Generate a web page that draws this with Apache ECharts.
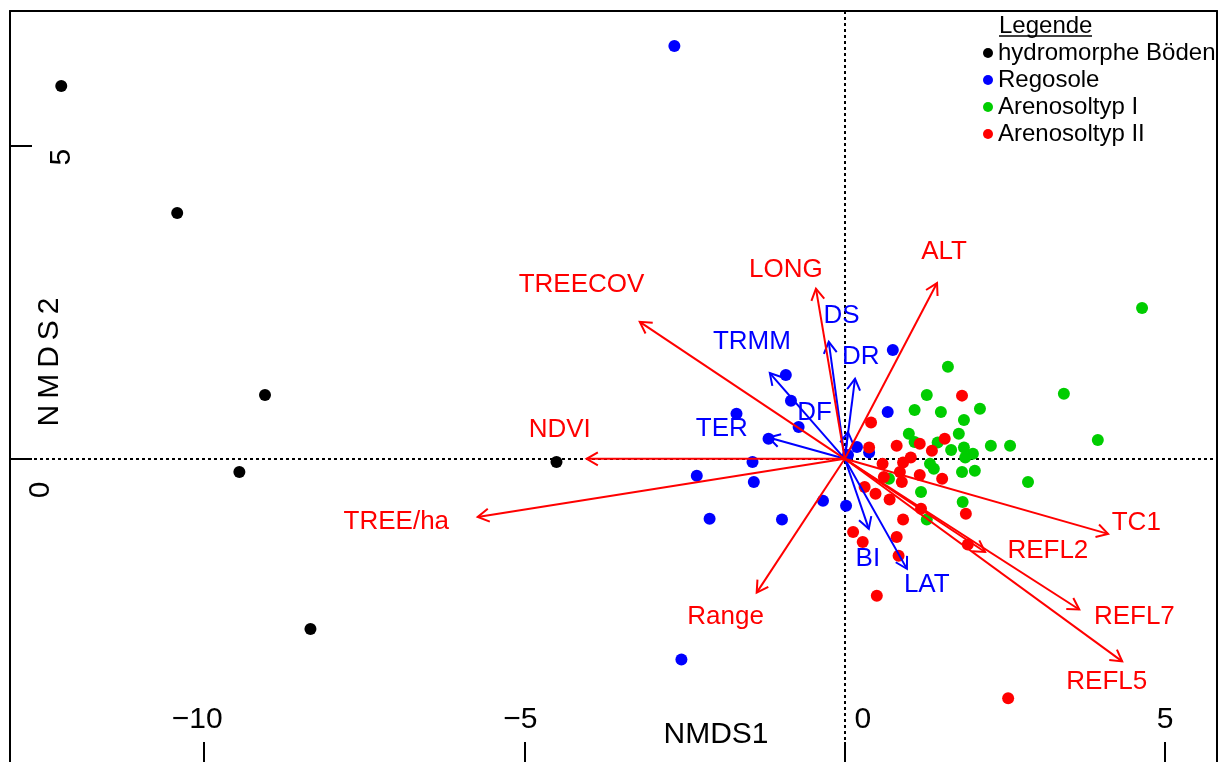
<!DOCTYPE html>
<html><head><meta charset="utf-8">
<script src="https://cdn.jsdelivr.net/npm/echarts@6/dist/echarts.min.js"></script>
<style>html,body{margin:0;padding:0;background:#fff}#c{width:1226px;height:762px}</style>
</head><body><div id="c"></div>
<script>
// ---- data ----
const seriesNames = ['hydromorphe Böden', 'Regosole', 'Arenosoltyp I', 'Arenosoltyp II'];
const seriesColors = ['#000000', '#0000FF', '#00CD00', '#FF0000'];

const hydroX = [-12.23, -10.42, -9.05, -9.45, -8.34, -4.50];
const hydroY = [5.96, 3.93, 1.02, -0.21, -2.72, -0.05];

const regoX = [-2.66, 0.75, 0.67, -0.92, -0.84, -1.69, -0.72, -1.19, 0.19, 0.38, 0.05, -1.44, -2.31, -1.42, -0.34, 0.02, -2.11, -0.98, -2.55];
const regoY = [6.60, 1.74, 0.75, 1.34, 0.93, 0.72, 0.51, 0.32, 0.19, 0.10, 0.06, -0.05, -0.27, -0.37, -0.67, -0.75, -0.96, -0.97, -3.21];

const are1X = [4.64, 3.42, 3.95, 1.61, 1.28, 2.11, 1.09, 1.50, 1.86, 1.78, 1.00, 1.09, 1.45, 1.66, 1.86, 2.00, 1.88, 2.28, 2.58, 1.33, 1.39, 1.83, 2.03, 2.86, 0.69, 1.19, 1.84, 1.28];
const are1Y = [2.41, 1.04, 0.30, 1.47, 1.02, 0.80, 0.78, 0.75, 0.62, 0.40, 0.40, 0.27, 0.26, 0.14, 0.18, 0.08, 0.02, 0.21, 0.21, -0.08, -0.16, -0.21, -0.19, -0.37, -0.32, -0.53, -0.69, -0.97];

const are2X = [1.83, 0.41, 0.38, 0.81, 1.17, 1.56, 1.36, 1.03, 0.91, 0.59, 0.86, 1.17, 1.52, 0.61, 0.31, 0.89, 0.48, 0.70, 1.19, 1.89, 0.91, 0.13, 0.28, 0.81, 0.84, 1.92, 0.50, 2.55];
const are2Y = [1.01, 0.58, 0.18, 0.21, 0.24, 0.32, 0.13, 0.02, -0.06, -0.08, -0.21, -0.26, -0.32, -0.29, -0.45, -0.37, -0.56, -0.65, -0.80, -0.88, -0.97, -1.17, -1.33, -1.25, -1.55, -1.37, -2.19, -3.83];

const redNames = ['TREECOV', 'LONG', 'ALT', 'NDVI', 'TREE/ha', 'Range', 'TC1', 'REFL2', 'REFL7', 'REFL5'];
const redTipX = [-3.20, -0.45, 1.44, -4.03, -5.73, -1.375, 4.11, 2.19, 3.66, 4.33];
const redTipY = [2.19, 2.72, 2.81, 0.00, -0.93, -2.14, -1.20, -1.49, -2.41, -3.24];
const redLabX = [-4.11, -0.92, 1.55, -4.45, -7.00, -1.86, 4.55, 3.17, 4.52, 4.09];
const redLabY = [2.78, 3.02, 3.31, 0.46, -1.00, -2.52, -1.02, -1.47, -2.52, -3.56];

const blueNames = ['DS', 'DR', 'TRMM', 'DF', 'TER', 'BI', 'LAT'];
const blueTipX = [-0.25, 0.16, -1.17, 0.05, -1.19, 0.375, 0.97];
const blueTipY = [1.87, 1.28, 1.37, 0.43, 0.34, -1.12, -1.76];
const blueLabX = [-0.05, 0.25, -1.45, -0.47, -1.92, 0.36, 1.28];
const blueLabY = [2.28, 1.63, 1.87, 0.73, 0.48, -1.60, -2.01];

const xTickValues = [-10, -5, 0, 5];
const xTickLabels = ['\u221210', '\u22125', '0', '5'];
const yTickValues = [0, 5];
const yTickLabels = ['0', '5'];

// ---- build ----
const FONT = '"Liberation Sans", Arial, Helvetica, sans-serif';
const X_MIN = -13.03, X_MAX = 5.81, Y_MIN = -4.88, Y_MAX = 7.16;
function zip(xs, ys) { return xs.map((x, i) => [x, ys[i]]); }
function zip4(a, b, c, d) { return a.map((x, i) => [x, b[i], c[i], d[i]]); }

function arrowRender(color, names) {
  return function (params, api) {
    const o = api.coord([0, 0]);
    const p = api.coord([api.value(0), api.value(1)]);
    const l = api.coord([api.value(2), api.value(3)]);
    const ang = Math.atan2(p[1] - o[1], p[0] - o[0]);
    const hl = 13, ha = Math.PI / 6;
    const h1 = [p[0] - hl * Math.cos(ang - ha), p[1] - hl * Math.sin(ang - ha)];
    const h2 = [p[0] - hl * Math.cos(ang + ha), p[1] - hl * Math.sin(ang + ha)];
    return {
      type: 'group',
      children: [
        { type: 'line', shape: { x1: o[0], y1: o[1], x2: p[0], y2: p[1] }, style: { stroke: color, lineWidth: 2 } },
        { type: 'polyline', shape: { points: [h1, p, h2] }, style: { stroke: color, lineWidth: 2, fill: null } },
        { type: 'text', style: { text: names[params.dataIndex], x: l[0], y: l[1], fill: color, font: '26px ' + FONT, align: 'center', verticalAlign: 'middle' } }
      ]
    };
  };
}

const xRich = {
  x0: { fontSize: 30, fontFamily: FONT, color: '#000', lineHeight: 30, padding: [0, 14, 0, 0] },
  x1: { fontSize: 30, fontFamily: FONT, color: '#000', lineHeight: 30, padding: [0, 8, 0, 0] },
  x2: { fontSize: 30, fontFamily: FONT, color: '#000', lineHeight: 30, padding: [0, 0, 0, 36] },
  x3: { fontSize: 30, fontFamily: FONT, color: '#000', lineHeight: 30 }
};
const yRich = {
  y0: { fontSize: 30, fontFamily: FONT, color: '#000', lineHeight: 30, padding: [0, 62, 0, 0] },
  y1: { fontSize: 30, fontFamily: FONT, color: '#000', lineHeight: 30, padding: [42, 22, 0, 0] }
};

const pointData = [zip(hydroX, hydroY), zip(regoX, regoY), zip(are1X, are1Y), zip(are2X, are2Y)];
const series = seriesNames.map((n, i) => ({
  name: n, type: 'scatter', data: pointData[i], symbol: 'circle', symbolSize: 12,
  xAxisIndex: 0, yAxisIndex: 0,
  itemStyle: { color: seriesColors[i], opacity: 1 }, z: 3,
  emphasis: { disabled: true }
}));
series[0].markLine = {
  silent: true, symbol: ['none', 'none'], label: { show: false },
  lineStyle: { color: '#000', type: [3, 3], width: 2 },
  data: [{ xAxis: 0 }, { yAxis: 0 }], animation: false, z: 1
};
series.push({
  name: 'blueArrows', type: 'custom', coordinateSystem: 'cartesian2d', z: 4,
  xAxisIndex: 0, yAxisIndex: 0,
  data: zip4(blueTipX, blueTipY, blueLabX, blueLabY), encode: { x: 0, y: 1 },
  renderItem: arrowRender('#0000FF', blueNames), silent: true
});
series.push({
  name: 'redArrows', type: 'custom', coordinateSystem: 'cartesian2d', z: 5,
  xAxisIndex: 0, yAxisIndex: 0,
  data: zip4(redTipX, redTipY, redLabX, redLabY), encode: { x: 0, y: 1 },
  renderItem: arrowRender('#FF0000', redNames), silent: true
});

const frameAxis = { type: 'value', axisLine: { show: true, onZero: false, lineStyle: { color: '#000', width: 2 } },
  axisTick: { show: false }, axisLabel: { show: false }, splitLine: { show: false } };

const chart = echarts.init(document.getElementById('c'), null, { renderer: 'canvas' });
chart.setOption({
  animation: false,
  backgroundColor: '#fff',
  grid: { left: 10, top: 11, width: 1207, height: 753, show: false, containLabel: false, outerBoundsMode: 'none' },
  xAxis: [{
    type: 'value', position: 'bottom', min: X_MIN, max: X_MAX,
    axisLine: { show: false, onZero: false }, splitLine: { show: false },
    axisTick: { show: true, inside: true, length: 22, lineStyle: { color: '#000', width: 2 }, customValues: xTickValues },
    axisLabel: {
      show: true, inside: true, margin: 29, customValues: xTickValues,
      formatter: function (v) { const i = xTickValues.indexOf(v); return '{x' + i + '|' + xTickLabels[i] + '}'; },
      rich: xRich
    }
  }, Object.assign({ position: 'top', min: X_MIN, max: X_MAX }, frameAxis)],
  yAxis: [{
    type: 'value', position: 'left', min: Y_MIN, max: Y_MAX,
    axisLine: { show: true, onZero: false, lineStyle: { color: '#000', width: 2 } }, splitLine: { show: false },
    axisTick: { show: true, inside: true, length: 22, lineStyle: { color: '#000', width: 2 }, customValues: yTickValues },
    axisLabel: {
      show: true, inside: true, rotate: 90, margin: 16, customValues: yTickValues,
      formatter: function (v) { const i = yTickValues.indexOf(v); return '{y' + i + '|' + yTickLabels[i] + '}'; },
      rich: yRich
    }
  }, Object.assign({ position: 'right', min: Y_MIN, max: Y_MAX }, frameAxis)],
  legend: {
    data: seriesNames, orient: 'vertical', left: 983, top: 41, itemWidth: 10, itemHeight: 10, itemGap: 3,
    icon: 'circle', selectedMode: false, padding: 0,
    textStyle: { fontSize: 24, color: '#000', fontFamily: FONT, lineHeight: 24 }
  },
  graphic: [
    { type: 'text', x: 999, y: 26, silent: true, style: { text: 'Legende', font: '24px ' + FONT, fill: '#000', align: 'left', verticalAlign: 'middle' } },
    { type: 'line', silent: true, shape: { x1: 999, y1: 36, x2: 1092, y2: 36 }, style: { stroke: '#000', lineWidth: 1.5 } },
    { type: 'text', x: 716, y: 735, silent: true, style: { text: 'NMDS1', font: '30px ' + FONT, fill: '#000', align: 'center', verticalAlign: 'middle' } },
    { type: 'text', x: 50, y: 362, rotation: Math.PI / 2, silent: true, style: {
        text: '{s|N}{s|M}{s|D}{s|S}{e|2}', fill: '#000', align: 'center', verticalAlign: 'middle', font: '30px ' + FONT,
        rich: {
          s: { fontSize: 30, fontFamily: FONT, fill: '#000', padding: [0, 6, 0, 0] },
          e: { fontSize: 30, fontFamily: FONT, fill: '#000' }
        }
      } }
  ],
  series: series
});
</script>
</body></html>
